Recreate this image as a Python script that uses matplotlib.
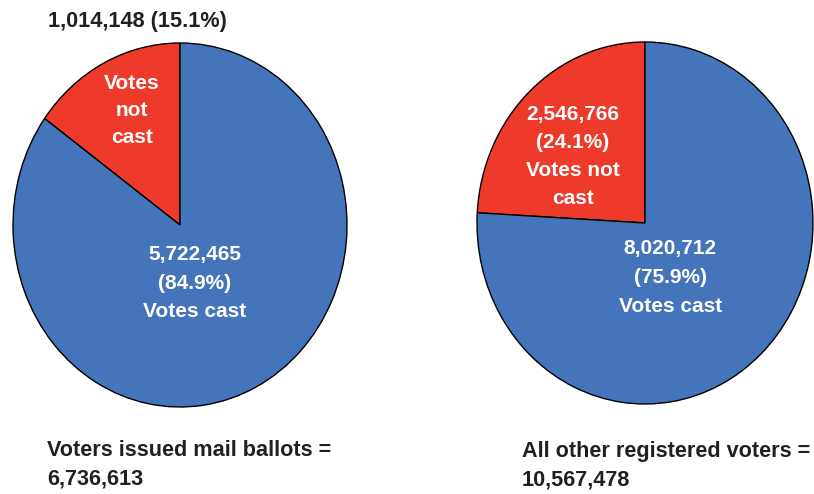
import matplotlib
matplotlib.use("Agg")
import matplotlib.pyplot as plt

# vote counts per group: [not cast, cast]
groups = ["Voters issued mail ballots", "All other registered voters"]
not_cast = [1014148, 2546766]
cast = [5722465, 8020712]

blue = "#4474BA"
red = "#EE3A2B"
ink = "#231F20"
W, H = 814, 494

fig = plt.figure(figsize=(W / 100, H / 100), dpi=100)


def add_pie(left, right, top, bottom, values):
    ax = fig.add_axes([left / W, 1 - bottom / H, (right - left) / W, (bottom - top) / H])
    ax.pie(values, colors=[red, blue], startangle=90, counterclock=True,
           wedgeprops=dict(edgecolor="black", linewidth=1.0))
    ax.set_aspect("auto")
    ax.set_xlim(-1, 1)
    ax.set_ylim(-1, 1)
    return ax


bold = dict(family=["Liberation Sans", "DejaVu Sans"], weight="bold")

# left pie: mail ballots
total0 = not_cast[0] + cast[0]
ax0 = add_pie(13, 347, 43, 407, [not_cast[0], cast[0]])
ax0.text(-0.29, 0.63, "Votes\nnot\ncast", ha="center", va="center", color="white",
         fontsize=15, linespacing=1.55, **bold)
ax0.text(0.09, -0.32, f"{cast[0]:,}\n({cast[0] / total0 * 100:.1f}%)\nVotes cast",
         ha="center", va="center", color="white", fontsize=15, linespacing=1.65, **bold)
fig.text(48 / W, 1 - 21 / H, f"{not_cast[0]:,} ({not_cast[0] / total0 * 100:.1f}%)",
         ha="left", va="center", color=ink, fontsize=15.6, **bold)
fig.text(47 / W, 1 - 465 / H, f"{groups[0]} =\n{total0:,}", ha="left", va="center",
         color=ink, fontsize=15.6, linespacing=1.5, **bold)

# right pie: everyone else
total1 = not_cast[1] + cast[1]
ax1 = add_pie(477, 813, 42, 404, [not_cast[1], cast[1]])
ax1.text(-0.43, 0.37,
         f"{not_cast[1]:,}\n({not_cast[1] / total1 * 100:.1f}%)\nVotes not\ncast",
         ha="center", va="center", color="white", fontsize=15, linespacing=1.6, **bold)
ax1.text(0.15, -0.30, f"{cast[1]:,}\n({cast[1] / total1 * 100:.1f}%)\nVotes cast",
         ha="center", va="center", color="white", fontsize=15, linespacing=1.65, **bold)
fig.text(522 / W, 1 - 466 / H, f"{groups[1]} =\n{total1:,}", ha="left", va="center",
         color=ink, fontsize=15.6, linespacing=1.45, **bold)

fig.savefig("out.png", dpi=100)
